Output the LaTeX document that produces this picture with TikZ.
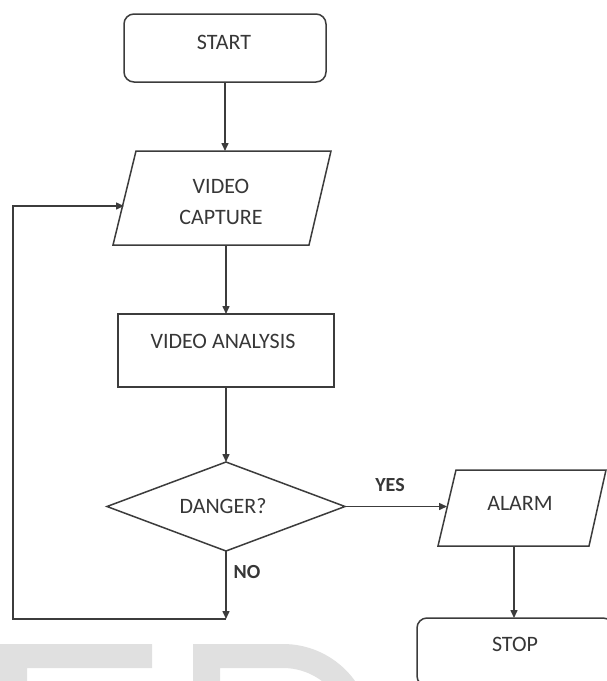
\documentclass[tikz,border=0pt]{standalone}
\usepackage{fontspec}
\setmainfont{Carlito}
\usetikzlibrary{arrows.meta,shapes.geometric,calc}
\definecolor{lncol}{RGB}{60,60,60}
\definecolor{txcol}{RGB}{55,55,55}
\definecolor{wmcol}{RGB}{224,224,224}
\begin{document}
\begin{tikzpicture}[x=1pt,y=-1pt,
  ln/.style={draw=lncol, line width=1.5pt},
  arr/.style={draw=lncol, line width=1.5pt, -{Triangle[length=8pt,width=7pt]}},
  shp/.style={inner sep=0pt, outer sep=0pt},
  lbl/.style={text=txcol, font=\fontsize{22}{26}\selectfont, anchor=base, inner sep=0pt},
  yn/.style={text=txcol, font=\fontsize{20}{24}\selectfont\bfseries, anchor=base, inner sep=0pt}]
\useasboundingbox (0,0) rectangle (607,681);
\clip (0,0) rectangle (607,681);
\fill[white] (0,0) rectangle (607,681);
% watermark
\fill[wmcol] (-5,644) -- (152,644) -- (152,668) -- (27,668) -- (27,700) -- (-5,700) -- cycle;
\fill[wmcol, even odd rule] (193,644) -- (283,644) arc[start angle=-90, end angle=0, radius=88.6] -- (193,732.6) -- cycle
  (220,668) -- (283,668) arc[start angle=-90, end angle=0, radius=64.6] -- (220,732.6) -- cycle;
% shapes
\node[ln, shp, rounded corners=10pt, minimum width=202pt, minimum height=68pt] (start) at (225,48) {};
\node[shp, minimum width=218pt, minimum height=94pt] (cap) at (222,198) {};
\draw[ln, line join=miter] ($(cap.north west)+(23,0)$) -- (cap.north east) -- ($(cap.south east)+(-22,0)$) -- (cap.south west) -- cycle;
\node[ln, shp, minimum width=216pt, minimum height=73pt] (ana) at (226,350.5) {};
\node[ln, shp, diamond, minimum width=238pt, minimum height=89pt] (dang) at (226,506.5) {};
\node[shp, minimum width=168pt, minimum height=76pt] (alarm) at (522,508) {};
\draw[ln, line join=miter] ($(alarm.north west)+(18,0)$) -- (alarm.north east) -- ($(alarm.south east)+(-17,0)$) -- (alarm.south west) -- cycle;
\node[ln, shp, rounded corners=10pt, minimum width=196pt, minimum height=68pt] (stop) at (515,652) {};
% labels
\node[lbl] (startT) at (224,49) {START};
\node[lbl] (capT1) at (221,193) {VIDEO};
\node[lbl] (capT2) at (221,224) {CAPTURE};
\node[lbl] (anaT) at (223,348) {VIDEO ANALYSIS};
\node[lbl] (dangT) at (223,513) {DANGER?};
\node[lbl] (alarmT) at (520,510) {ALARM};
\node[lbl] (stopT) at (515,651) {STOP};
\node[yn] (yesT) at (390,491) {YES};
\node[yn] (noT) at (247,578) {NO};
% connectors
\coordinate (nob) at (226,619);
\coordinate (lb) at (13,619);
\coordinate (lt) at (13,206);
\coordinate (capin) at (124,206);
\coordinate (alin) at (447,506.5);
\coordinate (alout) at (514,546);
\draw[arr] (start.south) -- (start.south |- cap.north);
\draw[arr] (ana.north |- cap.south) -- (ana.north);
\draw[arr] (ana.south) -- (dang.north);
\draw[arr] (dang.south) -- (nob);
\draw[arr] (nob) -- (lb) -- (lt) -- (capin);
\draw[arr] (dang.east) -- (alin);
\draw[arr] (alout) -- (alout |- stop.north);
\end{tikzpicture}
\end{document}
